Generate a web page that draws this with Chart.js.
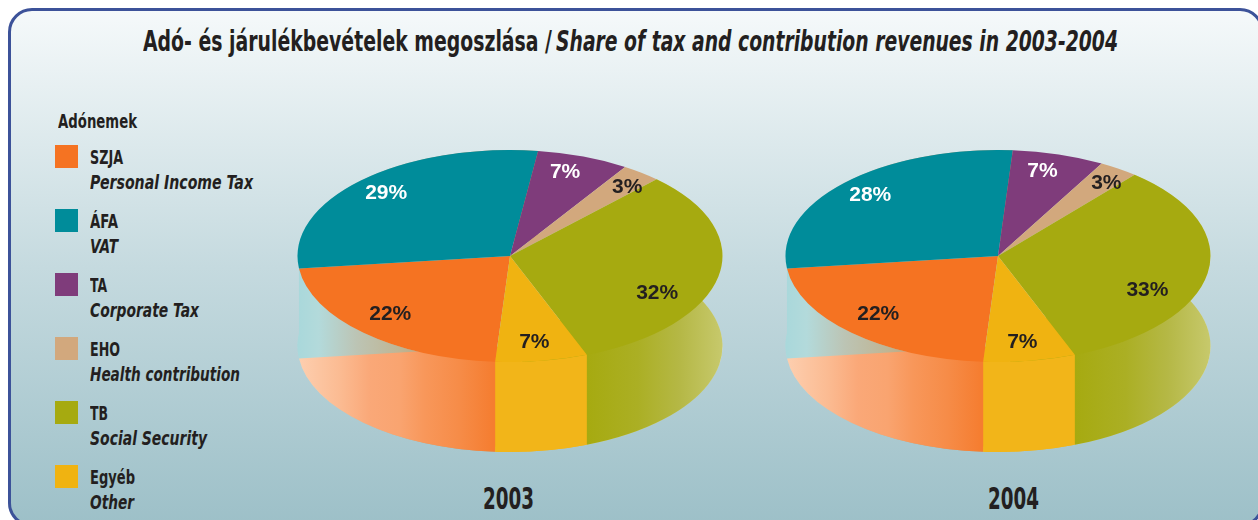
<!DOCTYPE html>
<html><head><meta charset="utf-8">
<script src="https://cdn.jsdelivr.net/npm/chart.js@4"></script>
<style>
html,body{margin:0;padding:0;width:1258px;height:520px;overflow:hidden;background:#fff}
#card{position:absolute;left:8px;top:8px;width:1256px;height:519px;box-sizing:border-box;border:3px solid #3c5299;border-radius:24px;background:linear-gradient(180deg,#f5f9fa 0%,#c5dadf 50%,#9dc0c8 100%)}
.t{position:absolute;white-space:nowrap;color:#231f20;font-family:"Liberation Sans Narrow","DejaVu Sans Condensed","Liberation Sans",sans-serif;font-weight:700;transform-origin:0 0;line-height:1}
.sw{position:absolute;width:23px;height:23px}
canvas{position:absolute}
</style></head><body>
<div id="card"></div>
<canvas id="c2003" width="440" height="310" style="left:290px;top:146px;width:440px;height:310px"></canvas>
<canvas id="c2004" width="440" height="310" style="left:778px;top:146px;width:440px;height:310px"></canvas>
<script>
const titleHu = "Adó- és járulékbevételek megoszlása /";
const titleEn = "Share of tax and contribution revenues in 2003-2004";
const legendTitle = "Adónemek";
const categories = ["SZJA","ÁFA","TA","EHO","TB","Egyéb"];
const categoriesEn = ["Personal Income Tax","VAT","Corporate Tax","Health contribution","Social Security","Other"];
const years = ["2003","2004"];
const values2003 = [22,29,7,3,32,7];
const values2004 = [22,28,7,3,33,7];
const colors = ["#f57322","#008c9a","#7f3c7b","#d2a87d","#a6aa10","#f0b311"];
const labelColors = ["#231f20","#ffffff","#ffffff","#231f20","#231f20","#231f20"];
const labelRadius = [.785,.83,.83,.855,.775,.82];
const labelTurn = [.04,0,-.035,.035,.27,.01];

const RX = 212.5, RY = 106, DEPTH = 90;

function wallFill(ctx, i, cx, bottom){
  const g = ctx.createLinearGradient(cx-RX,0,cx+RX,0);
  if(bottom){
    if(i===0){
      g.addColorStop(0,"#fdcfb0"); g.addColorStop(.1,"#fbbb92"); g.addColorStop(.17,"#faa878");
      g.addColorStop(.24,"#f9a470"); g.addColorStop(.3,"#f8975a"); g.addColorStop(.38,"#f68c48");
      g.addColorStop(.46,"#f57d30"); g.addColorStop(1,"#f57d30");
      return g;
    }
    if(i===5) return "#f2b519";
    if(i===4){
      g.addColorStop(0,"#a6aa10"); g.addColorStop(.68,"#a6aa10"); g.addColorStop(.8,"#abaf24");
      g.addColorStop(.9,"#b5b846"); g.addColorStop(1,"#c7c96c");
      return g;
    }
    return "#add9dc";
  }
  if(i===0 || i===1){
    g.addColorStop(0,"#a9d8db"); g.addColorStop(.05,"#b3dadb"); g.addColorStop(.14,"#bcc4b4");
    g.addColorStop(.24,"#bfb594"); g.addColorStop(.32,"#bf9f78"); g.addColorStop(1,"#bf9f78");
    return g;
  }
  if(i===4){
    g.addColorStop(0,"#d0d392"); g.addColorStop(.93,"#d0d392"); g.addColorStop(.97,"#d8dbaa"); g.addColorStop(1,"#e2e5d0");
    return g;
  }
  return "rgba(0,0,0,0)";
}
function wedge(ctx,a,i,cx,cy){
  ctx.beginPath();
  ctx.moveTo(cx,cy+DEPTH);
  ctx.ellipse(cx,cy+DEPTH,RX,RY,0,a.startAngle,a.endAngle);
  ctx.closePath();
  ctx.fillStyle = wallFill(ctx,i,cx,true);
  ctx.fill();
}
function band(ctx,a,i,cx,cy,bottom){
  ctx.beginPath();
  ctx.ellipse(cx,cy,RX,RY,0,a.startAngle,a.endAngle);
  ctx.ellipse(cx,cy+DEPTH,RX,RY,0,a.endAngle,a.startAngle,true);
  ctx.closePath();
  ctx.fillStyle = wallFill(ctx,i,cx,bottom);
  ctx.fill();
}
const FRONT = [0,4,5], BACK = [1];
const pie3d = {
  id:"pie3d",
  beforeDatasetsDraw(chart){
    const ctx = chart.ctx, arcs = chart.getDatasetMeta(0).data;
    const cx = arcs[0].x, cy = arcs[0].y, R = arcs[0].outerRadius;
    BACK.forEach(i=>wedge(ctx,arcs[i],i,cx,cy));
    arcs.forEach((a,i)=>band(ctx,a,i,cx,cy,false));
    FRONT.forEach(i=>wedge(ctx,arcs[i],i,cx,cy));
    band(ctx,arcs[5],5,cx,cy,true);
    ctx.save();
    ctx.translate(cx,cy);
    ctx.scale(RX/R,RY/R);
    ctx.translate(-cx,-cy);
  },
  afterDatasetsDraw(chart){
    const ctx = chart.ctx; ctx.restore();
    const arcs = chart.getDatasetMeta(0).data, ds = chart.data.datasets[0];
    ctx.save();
    ctx.font = '700 21px "Liberation Sans",sans-serif';
    ctx.textAlign="center"; ctx.textBaseline="middle";
    arcs.forEach((a,i)=>{
      const m = (a.startAngle+a.endAngle)/2 + labelTurn[i], r = labelRadius[i];
      ctx.fillStyle = labelColors[i];
      ctx.fillText(ds.data[i]+"%", a.x+Math.cos(m)*r*RX, a.y+Math.sin(m)*r*RY);
    });
    ctx.restore();
  }
};

function makePie(id, values){
  new Chart(document.getElementById(id),{
    type:"pie",
    data:{labels:categories,datasets:[{data:values,backgroundColor:colors,borderWidth:0,clip:false}]},
    options:{responsive:false,animation:false,rotation:184,
      layout:{padding:{bottom:90}},
      plugins:{legend:{display:false},tooltip:{enabled:false}},
      events:[]},
    plugins:[pie3d]
  });
}
makePie("c2003",values2003);
makePie("c2004",values2004);

function text(str,x,top,size,target,italic){
  const e=document.createElement("div");
  e.className="t"; e.textContent=str;
  e.style.left=x+"px"; e.style.top=top+"px"; e.style.fontSize=size+"px";
  if(italic) e.style.fontStyle="italic";
  document.body.appendChild(e);
  const w=e.getBoundingClientRect().width;
  e.style.transform="scaleX("+(target/w)+")";
  return e;
}
text(titleHu,143,27,29,409,false);
text(titleEn,556,27,29,562,true);
text(legendTitle,58,111,20,79,false);
const nameW=[33,28,17,30,18,45], enW=[163,28,109,150,117,44];
categories.forEach((c,i)=>{
  const y=145+i*64;
  const s=document.createElement("div");
  s.className="sw"; s.style.left="55px"; s.style.top=y+"px"; s.style.background=colors[i];
  document.body.appendChild(s);
  text(c,90,y+2,20,nameW[i],false);
  text(categoriesEn[i],90,y+27,20,enW[i],true);
});
text(years[0],483,484,30,51,false);
text(years[1],988,484,30,51,false);
</script>
</body></html>
